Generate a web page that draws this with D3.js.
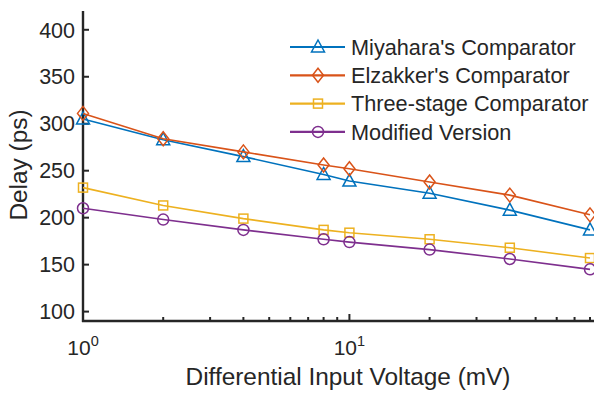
<!DOCTYPE html>
<html><head><meta charset="utf-8">
<script src="https://cdn.jsdelivr.net/npm/d3@7"></script>
<style>body{margin:0;background:#fff;} text{font-family:"Liberation Sans",Arial,sans-serif;fill:#262626;}</style>
</head><body>
<svg id="c" width="594" height="394"></svg>
<script>
const xVals = [1, 2, 4, 8, 10, 20, 40, 80];
const miyahara = [305, 283, 265, 246, 239, 226, 208, 187];
const elzakker = [311, 284, 270, 256, 252, 238, 224, 203];
const threeStage = [232, 213, 199, 187, 184, 177, 168, 157];
const modified = [210, 198, 187, 177, 174, 166, 156, 145];
const seriesNames = ["Miyahara's Comparator", "Elzakker's Comparator", "Three-stage Comparator", "Modified Version"];
const colors = ["#0072BD", "#D95319", "#EDB120", "#7E2F8E"];
const markers = ["triangle", "diamond", "square", "circle"];
const yTicks = [100, 150, 200, 250, 300, 350, 400];

const svg = d3.select("#c");
const x = d3.scaleLog().domain([1, 80]).range([83, 590]);
const y = d3.scaleLinear().domain([90, 420]).range([321, 11]);

// axes
const gy = svg.append("g").attr("transform", "translate(83,0)");
gy.append("line").attr("x1",0).attr("x2",0).attr("y1",y(420)).attr("y2",y(90)+1).attr("stroke","#262626").attr("stroke-width",2.4);
yTicks.forEach(t=>{
  gy.append("line").attr("x1",0).attr("x2",6).attr("y1",y(t)).attr("y2",y(t)).attr("stroke","#262626").attr("stroke-width",2);
  gy.append("text").attr("x",-8).attr("y",y(t)).attr("dy","0.36em").attr("text-anchor","end").attr("font-size",21.5).text(t);
});
const gx = svg.append("g");
gx.append("line").attr("x1",82).attr("x2",594).attr("y1",y(90)).attr("y2",y(90)).attr("stroke","#262626").attr("stroke-width",2.4);
const minor = [2,3,4,5,6,7,8,9,20,30,40,50,60,70,80];
minor.forEach(t=>{
  gx.append("line").attr("x1",x(t)).attr("x2",x(t)).attr("y1",y(90)).attr("y2",y(90)-4).attr("stroke","#262626").attr("stroke-width",2);
});
[1,10].forEach((t,i)=>{
  gx.append("line").attr("x1",x(t)).attr("x2",x(t)).attr("y1",y(90)).attr("y2",y(90)-7).attr("stroke","#262626").attr("stroke-width",2);
  const tx = gx.append("text").attr("x",x(t)).attr("y",355).attr("text-anchor","middle").attr("font-size",21);
  tx.append("tspan").text("10");
  tx.append("tspan").attr("dy",-9).attr("font-size",14.5).text(i);
});
svg.append("text").attr("x",348).attr("y",385).attr("text-anchor","middle").attr("font-size",24.4).text("Differential Input Voltage (mV)");
svg.append("text").attr("transform","translate(27,165) rotate(-90)").attr("text-anchor","middle").attr("font-size",24.4).text("Delay (ps)");

function drawMarker(g, type, cx, cy, color){
  if(type==="triangle"){
    g.append("path").attr("d",`M${cx},${cy-7} L${cx+6.5},${cy+5} L${cx-6.5},${cy+5} Z`).attr("fill","none").attr("stroke",color).attr("stroke-width",1.5);
  } else if(type==="diamond"){
    g.append("path").attr("d",`M${cx},${cy-7} L${cx+5.5},${cy} L${cx},${cy+7} L${cx-5.5},${cy} Z`).attr("fill","none").attr("stroke",color).attr("stroke-width",1.5);
  } else if(type==="square"){
    g.append("rect").attr("x",cx-4.5).attr("y",cy-4.5).attr("width",9).attr("height",9).attr("fill","none").attr("stroke",color).attr("stroke-width",1.5);
  } else {
    g.append("circle").attr("cx",cx).attr("cy",cy).attr("r",5.5).attr("fill","none").attr("stroke",color).attr("stroke-width",1.5);
  }
}

const allSeries = [miyahara, elzakker, threeStage, modified];
const line = d3.line().x((d,i)=>x(xVals[i])).y(d=>y(d));
const plot = svg.append("g");
allSeries.forEach((s,k)=>{
  plot.append("path").datum(s).attr("d",line).attr("fill","none").attr("stroke",colors[k]).attr("stroke-width",1.6);
  s.forEach((v,i)=>drawMarker(plot, markers[k], x(xVals[i]), y(v), colors[k]));
});

// legend
const leg = svg.append("g");
seriesNames.forEach((n,k)=>{
  const ly = 47 + k*28.3;
  leg.append("line").attr("x1",290).attr("x2",345).attr("y1",ly).attr("y2",ly).attr("stroke",colors[k]).attr("stroke-width",2.2);
  drawMarker(leg, markers[k], 318, ly, colors[k]);
  leg.append("text").attr("x",351).attr("y",ly).attr("dy","0.36em").attr("font-size",21.7).text(n);
});
</script>
</body></html>
